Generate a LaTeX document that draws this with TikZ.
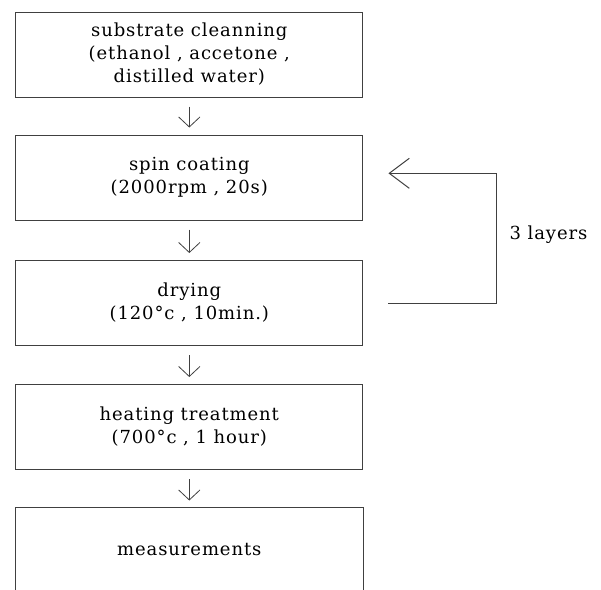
\documentclass[tikz,border=0pt]{standalone}
\usepackage{fontspec}
\setmainfont[LetterSpace=5]{DejaVu Serif}
\usetikzlibrary{arrows.meta,positioning}

\tikzset{
  stepbox/.style={draw=black!75, line width=0.75pt, minimum width=260pt, minimum height=63.75pt,
    align=center, inner sep=0pt, font=\fontsize{13.5}{17.25}\selectfont},
  down/.style={draw=black!75, line width=0.6pt, -{Straight Barb[length=7.5pt,width=16pt]}},
  back/.style={draw=black!75, line width=0.75pt, -{Straight Barb[length=15pt,width=22.5pt]}}
}

\begin{document}
\begin{tikzpicture}[x=0.75pt, y=-0.75pt]
        \useasboundingbox (0,0) rectangle (601,590);
        \node[stepbox] (clean) at (189.3,54.5) {substrate cleanning\\(ethanol , accetone ,\\distilled water)};
        \node[stepbox] (spin) at (189.3,177.5) {spin coating\\(2000rpm , 20s)};
        \node[stepbox] (dry) at (189.3,303) {drying\\(120°c , 10min.)};
        \node[stepbox] (heat) at (189.3,427) {heating treatment\\(700°c , 1 hour)};
        \node[stepbox, draw=none, minimum height=61.5pt] (meas) at (189.3,549) {measurements};
        \draw[black!75, line width=0.75pt] (meas.south west) |- (meas.north east) -- (meas.south east);
        \draw[down] ([yshift=-6.75pt]clean.south) -- ([yshift=5.25pt]spin.north);
        \draw[down] ([yshift=-6.75pt]spin.south) -- ([yshift=5.25pt]dry.north);
        \draw[down] ([yshift=-6.75pt]dry.south) -- ([yshift=5.25pt]heat.north);
        \draw[down] ([yshift=-6.75pt]heat.south) -- ([yshift=5.25pt]meas.north);
        \coordinate (corner) at (496.7,303.3);
        \draw[back] ([xshift=19pt]dry.east |- corner) -- (corner) |- ([xshift=19pt]spin.east |- 0,173.3);
        \node[font=\fontsize{13.5}{16}\selectfont] (layers) at (548.5,235) {3 layers};
      \end{tikzpicture}
\end{document}
